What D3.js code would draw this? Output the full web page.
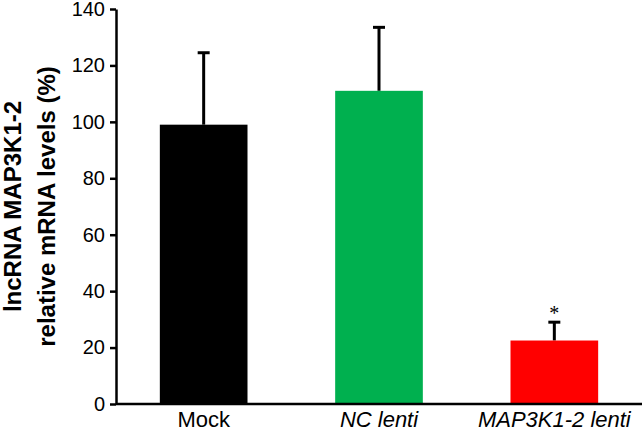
<!DOCTYPE html>
<html>
<head>
<meta charset="utf-8">
<script src="https://cdn.jsdelivr.net/npm/d3@7"></script>
<style>
  body { margin: 0; background: #fff; }
  text { font-family: "Liberation Sans", Arial, sans-serif; }
</style>
</head>
<body>
<div id="chart"></div>
<script>
// data
const groups = ["Mock", "NC lenti", "MAP3K1-2 lenti"];
const means = [99, 111, 22.5];
const errors = [25.5, 22.5, 6.5];
const barColors = ["#000000", "#00b04f", "#ff0000"];
const yTicks = [0, 20, 40, 60, 80, 100, 120, 140];

const width = 642;
const height = 429;
const margin = { top: 9, right: 0, bottom: 25, left: 116 };

const svg = d3.select("#chart")
    .append("svg")
    .attr("width", width)
    .attr("height", height);

const x = d3.scaleBand()
    .domain(groups)
    .range([margin.left, width - margin.right])
    .paddingInner(0.5)
    .paddingOuter(0.25);

const y = d3.scaleLinear()
    .domain([0, 140])
    .range([height - margin.bottom, margin.top]);

// error bars (drawn first so the bar covers the bottom of the stem)
const errG = svg.append("g");
groups.forEach((g, i) => {
    const cx = x(g) + x.bandwidth() / 2;
    errG.append("line")
        .attr("x1", cx).attr("x2", cx)
        .attr("y1", y(means[i])).attr("y2", y(means[i] + errors[i]))
        .attr("stroke", "#000").attr("stroke-width", 3);
    errG.append("line")
        .attr("x1", cx - 6).attr("x2", cx + 6)
        .attr("y1", y(means[i] + errors[i])).attr("y2", y(means[i] + errors[i]))
        .attr("stroke", "#000").attr("stroke-width", 3);
});

// bars
svg.append("g").selectAll("rect")
    .data(groups)
    .enter()
    .append("rect")
    .attr("x", d => x(d))
    .attr("y", (d, i) => y(means[i]))
    .attr("width", x.bandwidth())
    .attr("height", (d, i) => y(0) - y(means[i]))
    .attr("fill", (d, i) => barColors[i]);

// significance star
svg.append("text")
    .attr("x", x(groups[2]) + x.bandwidth() / 2)
    .attr("y", y(means[2] + errors[2]) - 2)
    .attr("text-anchor", "middle")
    .style("font-family", "'Liberation Serif', serif")
    .attr("font-size", 20)
    .text("*");

// y axis
const yAxis = svg.append("g")
    .attr("transform", `translate(${margin.left},0)`)
    .call(d3.axisLeft(y).tickValues(yTicks).tickSize(6).tickSizeOuter(0).tickPadding(5));
yAxis.select(".domain").attr("stroke-width", 2.5);
yAxis.selectAll(".tick line").attr("stroke-width", 2.5);
yAxis.selectAll(".tick text").attr("font-size", 20).attr("fill", "#000")
    .style("font-family", "'Liberation Sans', Arial, sans-serif");

// x axis
const xAxis = svg.append("g")
    .attr("transform", `translate(0,${y(0)})`)
    .call(d3.axisBottom(x).tickSize(0).tickPadding(8));
xAxis.select(".domain")
    .attr("d", `M${margin.left},0H${width}`)
    .attr("stroke-width", 2.5);
xAxis.selectAll(".tick text")
    .attr("font-size", 22)
    .attr("fill", "#000")
    .attr("dy", null)
    .attr("y", 23)
    .style("font-family", "'Liberation Sans', Arial, sans-serif")
    .style("font-style", d => d === "Mock" ? "normal" : "italic");

// y title, two lines
const titleG = svg.append("g")
    .attr("transform", `translate(0,${(y(0) + y(140)) / 2}) rotate(-90)`);
titleG.append("text")
    .attr("x", 0).attr("y", 21)
    .attr("text-anchor", "middle")
    .attr("font-size", 24)
    .attr("font-weight", "bold")
    .text("lncRNA MAP3K1-2");
titleG.append("text")
    .attr("x", 0).attr("y", 55)
    .attr("text-anchor", "middle")
    .attr("font-size", 24)
    .attr("font-weight", "bold")
    .text("relative mRNA levels (%)");
</script>
</body>
</html>
